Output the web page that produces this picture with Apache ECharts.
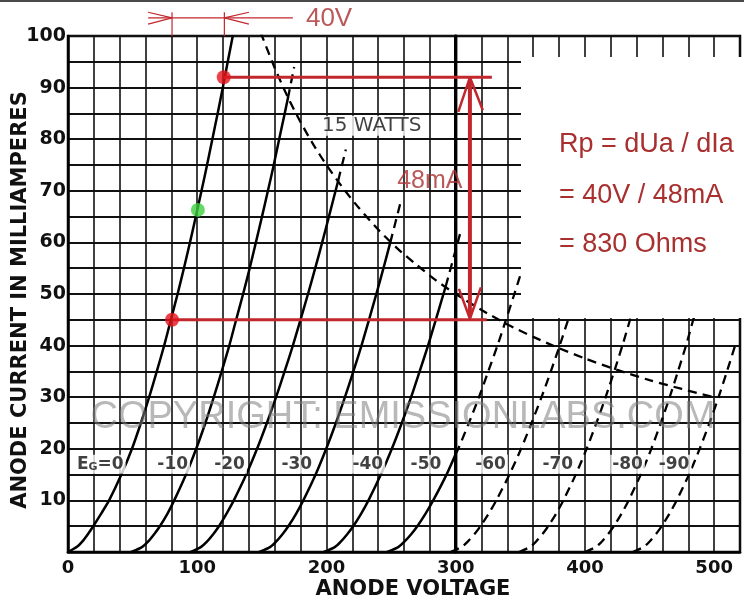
<!DOCTYPE html>
<html><head><meta charset="utf-8">
<script src="https://cdn.jsdelivr.net/npm/echarts@6/dist/echarts.min.js"></script>
<style>html,body{margin:0;padding:0;background:#fff}#c{width:744px;height:604px}</style>
</head><body><div id="c"></div>
<script>
// ---- tick labels ----
const xTickLabels = [0, 100, 200, 300, 400, 500];
const yTickLabels = [10, 20, 30, 40, 50, 60, 70, 80, 90, 100];

// ---- plate curves (anode volts, mA) ----
const eg0 = [[0,0],[7,1],[11,2],[15.5,3.5],[19.5,5],[25.8,7.5],[31.8,10],[41.3,15],[49.5,20],[56.4,25],[62.8,30],[68.7,35],[74.4,40],[79.6,45],[84.8,50],[89.7,55],[94.4,60],[98.9,65],[103.3,70],[107.6,75],[111.7,80],[115.8,85],[119.8,90],[123.6,95],[127.5,100]];
const eg10 = [[49,0],[57.5,1],[61.9,2],[66.8,3.5],[71.1,5],[77.1,7.5],[82.2,10],[91.3,15],[99.2,20],[106.3,25],[112.8,30],[118.9,35],[124.8,40],[130.1,45],[135.5,50],[140.6,55],[145.4,60],[150.1,65],[154.7,70],[159.2,75],[163.4,80],[167.7,85],[170.2,88]];
const eg10Ext = [[170.2,88],[175,94]];
const eg20 = [[95,0],[103,1],[107.5,2],[112.5,3.5],[116.8,5],[122.8,7.5],[128.3,10],[137.9,15],[146.3,20],[153.9,25],[161,30],[167.6,35],[174,40],[179.9,45],[185.7,50],[191.3,55],[196.7,60],[201.9,65],[209.1,72]];
const eg20Ext = [[209.1,72],[215,78]];
const eg30 = [[148,0],[156.6,1],[161,2],[166.1,3.5],[170.5,5],[176.7,7.5],[182.1,10],[191.6,15],[199.8,20],[207.3,25],[214.3,30],[220.8,35],[227.1,40],[232.9,45],[238.6,50],[244.1,55],[249.4,60]];
const eg30Ext = [[249.4,60],[257.6,68]];
const eg40 = [[198,0],[206.7,1],[211.1,2],[216.2,3.5],[220.7,5],[227,7.5],[232.5,10],[242.1,15],[250.6,20],[258.3,25],[265.5,30],[272.1,35],[278.6,40],[284.6,45],[292.3,51.5]];
const eg40Ext = [[292.3,51.5],[304.3,62.5]];
const eg50 = [[247,0],[255.8,1],[260.3,2],[265.7,3.5],[270.3,5],[276.8,7.5],[282.6,10],[292.9,15],[300,19]];
const eg50Ext = [[300,19],[302,20],[310.2,25],[318,30],[325.2,35],[332.3,40],[337.6,44],[345.4,50],[351.7,55],[357.8,60]];
const eg60 = [[296,0],[304.8,1],[309.3,2],[314.6,3.5],[319.2,5],[325.7,7.5],[331.4,10],[341.6,15],[350.6,20],[358.7,25],[366.4,30],[373.6,35],[379.8,39.5],[387,45],[393.5,50],[399.6,55],[405.6,60]];
const eg70 = [[349,0],[357.6,1],[362.1,2],[367.2,3.5],[371.6,5],[377.9,7.5],[383.3,10],[392.9,15],[401.3,20],[408.9,25],[416,30],[423.3,35.5],[429,40],[434.9,45],[440.8,50],[446.4,55]];
const eg80 = [[400,0],[408.6,1],[413,2],[418,3.5],[422.4,5],[428.5,7.5],[433.8,10],[443.2,15],[451.4,20],[458.7,25],[465.6,30],[472,35],[478.2,40],[483.8,45],[489.5,50],[494.9,55]];
const eg90 = [[437,0],[445.6,1],[449.9,2],[455,3.5],[459.4,5],[465.6,7.5],[471,10],[480.5,15],[488.8,20],[496.4,25],[503.4,30],[509.9,35],[516.2,40]];
const watts15 = [[149,100.7],[160,93.8],[170,88.2],[180,83.3],[190,78.9],[200,75],[212,70.8],[225,66.7],[240,62.5],[255,58.8],[270,55.6],[285,52.6],[300,50],[320,46.9],[340,44.1],[360,41.7],[380,39.5],[400,37.5],[425,35.3],[450,33.3],[475,31.6],[500,30]];
const maxPlateV = [[300,0],[300,100]];

// ---- curve labels ----
const egNames = ['Eg=0','-10','-20','-30','-40','-50','-60','-70','-80','-90'];
const egAnchors = [[25,17],[81,17],[125,17],[177,17],[232,17],[277,17],[327,17],[379,17],[433,17],[469,17]];
const wattsName = '15 WATTS';
const wattsAnchor = [235,82.6];

// ---- Rp construction ----
const dotsRed = [[80.5,45],[120.5,92]];
const dotGreen = [[100.5,66.3]];
const lineUpper = [[120.5,92],[328,92]];
const lineLower = [[80.5,45],[324,45]];
const arrowShaft = [[311,91.5],[311,45.5]];
const arrowTop = [[302,85.3],[311,92],[321,85.6]];
const arrowBottom = [[302.5,51],[311,45.2],[319.5,51.3]];
const dIaName = '48mA';
const dIaAnchor = [280,71.9];
const dimLine = [[62,103.5],[174,103.5]];
const dimTickLeft = [[80.5,100],[80.5,104.6]];
const dimTickRight = [[121,100],[121,104.6]];
const dimArrowLeft = [[62,104.6],[80.5,103.5],[62,102.3]];
const dimArrowRight = [[140,104.6],[121,103.5],[140,102.3]];
const dUaName = '40V';
const dUaAnchor = [202,103.3];
const rpLines = ['Rp = dUa / dIa', '= 40V / 48mA', '= 830 Ohms'];
const watermark = 'COPYRIGHT: EMISSIONLABS.COM';
const xTitle = 'ANODE VOLTAGE';
const yTitle = 'ANODE CURRENT IN MILLIAMPERES';

const RED = '#c1272d';
const TXTRED = '#a8302f';

function solid(data, w) {
  return {type:'line', data, smooth:0.25, symbol:'none', silent:true,
    lineStyle:{color:'#000', width:w||2.5, cap:'round'}, z:3};
}
function dashed(data) {
  return {type:'line', data, smooth:0.25, symbol:'none', silent:true,
    lineStyle:{color:'#000', width:2.3, type:[9,6]}, z:3};
}
function redLine(data, w, noclip) {
  return {type:'line', data, symbol:'none', silent:true, clip: !noclip,
    lineStyle:{color:RED, width:w}, z:6};
}

const chart = echarts.init(document.getElementById('c'), null, {renderer:'canvas'});
const option = {
  animation:false,
  backgroundColor:'#fff',
  grid:{left:68, right:4, top:36, bottom:52, show:true, borderColor:'#000', borderWidth:2.5},
  xAxis:{type:'value', min:0, max:520, interval:20,
    axisLine:{show:true, onZero:false, lineStyle:{color:'#000', width:2.5}},
    axisTick:{show:false},
    splitLine:{show:true, lineStyle:{color:'#111', width:1.6}},
    axisLabel:{formatter:v => xTickLabels.includes(v) ? String(v) : '', fontFamily:'DejaVu Sans', fontWeight:'bold', fontSize:18, color:'#111', margin:7}
  },
  yAxis:{type:'value', min:0, max:100, interval:5,
    axisLine:{show:true, onZero:false, lineStyle:{color:'#000', width:2.5}},
    axisTick:{show:false},
    splitLine:{show:true, lineStyle:{color:'#111', width:1.9}},
    axisLabel:{formatter:v => yTickLabels.includes(v) ? String(v) : '', fontFamily:'DejaVu Sans', fontWeight:'bold', fontSize:19, color:'#111', margin:2}
  },
  series:[
    solid(maxPlateV, 3.4),
    solid(eg0), solid(eg10), solid(eg20), solid(eg30), solid(eg40), solid(eg50),
    dashed(eg10Ext), dashed(eg20Ext), dashed(eg30Ext), dashed(eg40Ext), dashed(eg50Ext),
    dashed(eg60), dashed(eg70), dashed(eg80), dashed(eg90), dashed(watts15),
    {type:'scatter', data: egAnchors.map((p,i)=>({value:p, name:egNames[i]})), symbolSize:1, itemStyle:{color:'rgba(0,0,0,0)'}, z:8, silent:true,
      label:{show:true, position:'inside', color:'#111', fontFamily:'DejaVu Sans', fontWeight:'bold', fontSize:17, backgroundColor:'#fff', padding:[1,2],
        formatter:p => p.name.indexOf('Eg') === 0 ? '{e|E}{s|G}{e|' + p.name.slice(2) + '}' : p.name,
        rich:{e:{fontFamily:'DejaVu Sans', fontWeight:'bold', fontSize:17, color:'#111'}, s:{fontFamily:'DejaVu Sans', fontWeight:'bold', fontSize:11, color:'#111', padding:[6,0,0,0]}}}},
    {type:'scatter', data:[{value:wattsAnchor, name:wattsName}], symbolSize:1, itemStyle:{color:'rgba(0,0,0,0)'}, z:8, silent:true,
      label:{show:true, position:'inside', formatter:p=>p.name, color:'#111', fontFamily:'DejaVu Sans', fontSize:20, backgroundColor:'#fff', padding:[0,1]}},
    redLine(lineUpper, 3), redLine(lineLower, 3), redLine(arrowShaft, 4), redLine(arrowTop, 2.5), redLine(arrowBottom, 2.5),
    redLine(dimLine, 1.2, true), redLine(dimTickLeft, 1.2, true), redLine(dimTickRight, 1.2, true), redLine(dimArrowLeft, 1.2, true), redLine(dimArrowRight, 1.2, true),
    {type:'scatter', data:dotsRed, symbolSize:14, itemStyle:{color:'#e3141b'}, z:9, silent:true},
    {type:'scatter', data:dotGreen, symbolSize:14, itemStyle:{color:'#3fd03f'}, z:9, silent:true},
    {type:'scatter', data:[{value:dIaAnchor, name:dIaName}], symbolSize:1, itemStyle:{color:'rgba(0,0,0,0)'}, z:8, silent:true,
      label:{show:true, position:'inside', formatter:p=>p.name, color:TXTRED, fontFamily:'Liberation Sans', fontSize:25}},
    {type:'scatter', data:[{value:dUaAnchor, name:dUaName}], symbolSize:1, itemStyle:{color:'rgba(0,0,0,0)'}, z:8, silent:true, clip:false,
      label:{show:true, position:'inside', formatter:p=>p.name, color:TXTRED, fontFamily:'Liberation Sans', fontSize:26}}
  ],
  graphic:[
    {type:'rect', shape:{x:0, y:0, width:744, height:2}, style:{fill:'#4a4a4a'}, z:100, silent:true},
    {type:'rect', shape:{x:521, y:57, width:223, height:261}, style:{fill:'#fff'}, z:100, silent:true},
    {type:'text', x:559, y:145, z:101, silent:true, style:{text:rpLines[0], font:'27px "Liberation Sans"', fill:TXTRED, textAlign:'left', textVerticalAlign:'middle', align:'left', verticalAlign:'middle'}},
    {type:'text', x:559, y:196, z:101, silent:true, style:{text:rpLines[1], font:'27px "Liberation Sans"', fill:TXTRED, textAlign:'left', textVerticalAlign:'middle', align:'left', verticalAlign:'middle'}},
    {type:'text', x:559, y:245, z:101, silent:true, style:{text:rpLines[2], font:'27px "Liberation Sans"', fill:TXTRED, textAlign:'left', textVerticalAlign:'middle', align:'left', verticalAlign:'middle'}},
    {type:'text', x:403, y:418, z:102, silent:true, style:{text:watermark, font:'38px "Liberation Sans"', fill:'rgba(125,125,125,0.55)', textAlign:'center', textVerticalAlign:'middle', align:'center', verticalAlign:'middle'}},
    {type:'text', x:413, y:590, z:101, silent:true, style:{text:xTitle, font:'bold 21px "DejaVu Sans"', fill:'#111', textAlign:'center', textVerticalAlign:'middle', align:'center', verticalAlign:'middle'}},
    {type:'text', x:21, y:300, rotation:Math.PI/2, z:101, silent:true, style:{text:yTitle, font:'bold 21px "DejaVu Sans"', fill:'#111', textAlign:'center', textVerticalAlign:'middle', align:'center', verticalAlign:'middle'}}
  ]
};
chart.setOption(option);
</script>
</body></html>
